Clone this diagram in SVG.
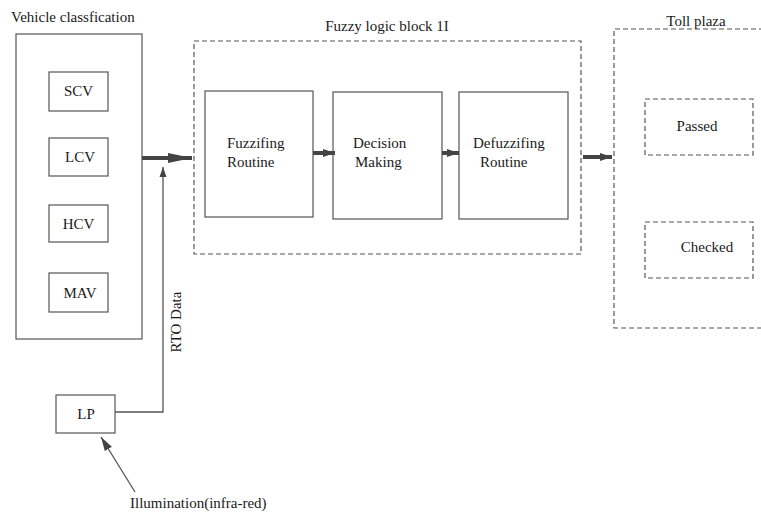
<svg xmlns="http://www.w3.org/2000/svg" width="761" height="512" viewBox="0 0 761 512">
<defs>
<style>
text{font-family:"Liberation Serif","DejaVu Serif","Times New Roman",serif;font-size:15px;fill:#1a1a1a}
.box{fill:none;stroke:#555;stroke-width:1.2}
.dash{fill:none;stroke:#555;stroke-width:1.2;stroke-dasharray:5 3}
.thick{stroke:#444;stroke-width:4;fill:none}
.thin{stroke:#555;stroke-width:1.3;fill:none}
</style>
<marker id="ahL" viewBox="0 0 24 12" refX="24" refY="6" markerWidth="24" markerHeight="12" orient="auto" markerUnits="userSpaceOnUse"><path d="M0,1 L24,6 L0,11 Z" fill="#444"/></marker>
<marker id="ahS" viewBox="0 0 12 10" refX="12" refY="5" markerWidth="12" markerHeight="10" orient="auto" markerUnits="userSpaceOnUse"><path d="M0,1 L12,5 L0,9 Z" fill="#444"/></marker>
<marker id="ah2" viewBox="0 0 10 10" refX="10" refY="5" markerWidth="10" markerHeight="10" orient="auto" markerUnits="userSpaceOnUse"><path d="M0,1.5 L10,5 L0,8.5 Z" fill="#444"/></marker>
<marker id="ah3" viewBox="0 0 10 10" refX="10" refY="5" markerWidth="14" markerHeight="14" orient="auto" markerUnits="userSpaceOnUse"><path d="M0,2 L10,5 L0,8 Z" fill="#444"/></marker>
</defs>
<rect width="761" height="512" fill="#fff"/>
<g id="vehicle-classification">
<text x="11" y="22">Vehicle classfication</text>
<rect class="box" x="16" y="34" width="126" height="305"/>
</g>
<g id="scv"><rect class="box" x="49" y="72" width="59" height="39"/><text x="78.5" y="96" text-anchor="middle">SCV</text></g>
<g id="lcv"><rect class="box" x="49" y="138" width="59" height="38"/><text x="80" y="162" text-anchor="middle">LCV</text></g>
<g id="hcv"><rect class="box" x="49" y="205" width="59" height="37"/><text x="78.5" y="229" text-anchor="middle">HCV</text></g>
<g id="mav"><rect class="box" x="49" y="273" width="59" height="39"/><text x="80" y="298" text-anchor="middle">MAV</text></g>
<g id="fuzzy-block">
<text x="387" y="31" text-anchor="middle">Fuzzy logic block 1I</text>
<rect class="dash" x="194" y="41" width="387" height="213"/>
</g>
<g id="fuzzifing"><rect class="box" x="205" y="91" width="108" height="126"/><text x="227" y="148">Fuzzifing</text><text x="227" y="167">Routine</text></g>
<g id="decision"><rect class="box" x="333" y="92" width="109" height="127"/><text x="353" y="148">Decision</text><text x="355" y="167">Making</text></g>
<g id="defuzzifing"><rect class="box" x="459" y="92" width="109" height="127"/><text x="473" y="148">Defuzzifing</text><text x="480" y="167">Routine</text></g>
<g id="toll-plaza">
<text x="696" y="26" text-anchor="middle">Toll plaza</text>
<path class="dash" d="M764,29 H614 V328 H764"/>
</g>
<g id="passed"><rect class="dash" x="645" y="99" width="108" height="56"/><text x="697" y="131" text-anchor="middle">Passed</text></g>
<g id="checked"><rect class="dash" x="645" y="222" width="108" height="56"/><text x="707" y="252" text-anchor="middle">Checked</text></g>
<g id="lp"><rect class="box" x="56" y="395" width="59" height="38"/><text x="86" y="419" text-anchor="middle">LP</text></g>
<g id="labels">
<text transform="translate(181,322) rotate(-90)" text-anchor="middle">RTO Data</text>
<text x="130" y="508">Illumination(infra-red)</text>
</g>
<g id="connectors">
<line class="thick" x1="142" y1="158" x2="192" y2="158" marker-end="url(#ahL)"/>
<line class="thick" x1="313" y1="153" x2="335" y2="153" marker-end="url(#ahS)"/>
<line class="thick" x1="442" y1="153" x2="459" y2="153" marker-end="url(#ahS)"/>
<line class="thick" x1="583" y1="157" x2="612" y2="157" marker-end="url(#ahS)"/>
<path class="thin" d="M115,412 H163 V167" marker-end="url(#ah2)"/>
<line class="thin" x1="135" y1="492" x2="101" y2="437" marker-end="url(#ah3)"/>
</g>
</svg>
